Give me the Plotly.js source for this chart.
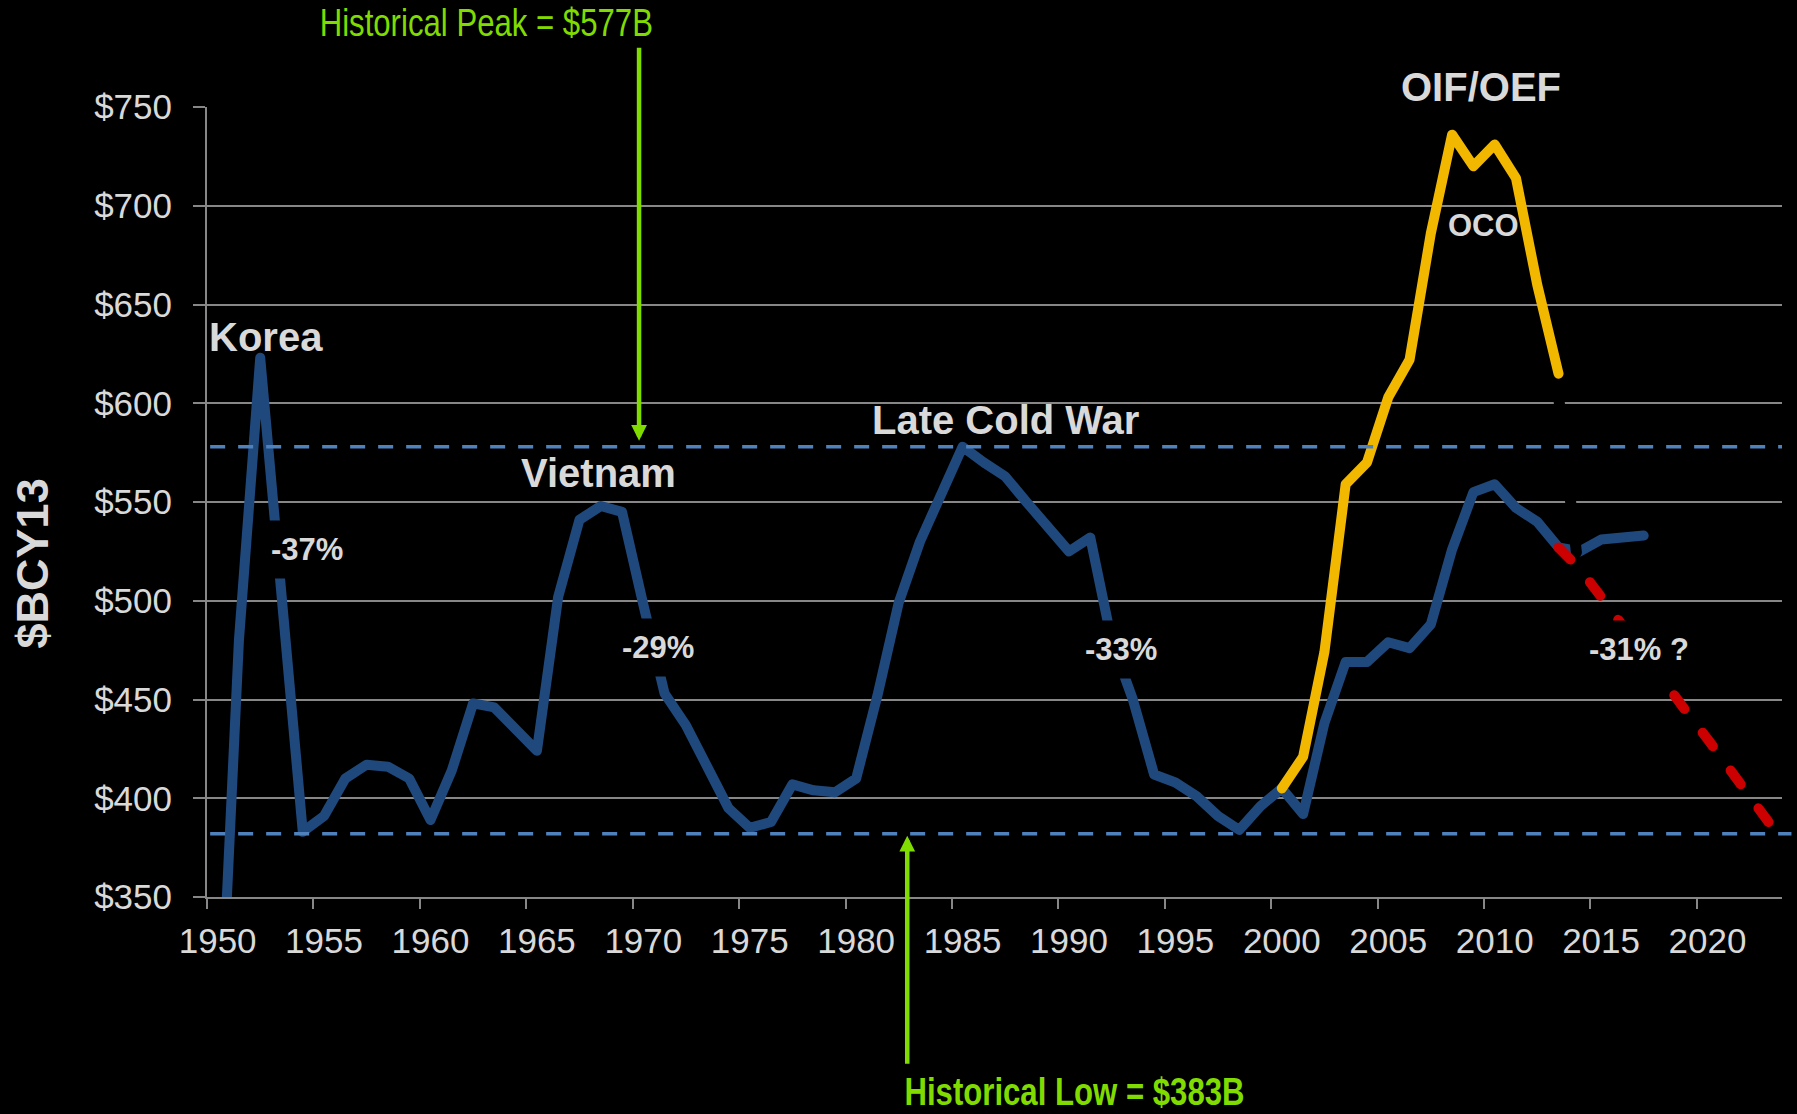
<!DOCTYPE html>
<html>
<head>
<meta charset="utf-8">
<script src="https://cdn.plot.ly/plotly-3.0.1.min.js"></script>
<style>
  html, body { margin: 0; padding: 0; background: #000; }
  #chart { width: 1797px; height: 1114px; }
  path.js-line { stroke-linecap: round !important; stroke-linejoin: round !important; }
  /* the two green call-outs use a condensed face in the original */
  g.annotation[data-index="10"] text.annotation-text,
  g.annotation[data-index="11"] text.annotation-text {
    transform-box: fill-box; transform-origin: center; transform: scaleX(0.82);
  }
</style>
</head>
<body>
<div id="chart"></div>
<script>
// ---- Data ($B constant CY13 dollars) ----
const baseYears = [1950,1951,1952,1953,1954,1955,1956,1957,1958,1959,
                   1960,1961,1962,1963,1964,1965,1966,1967,1968,1969,
                   1970,1971,1972,1973,1974,1975,1976,1977,1978,1979,
                   1980,1981,1982,1983,1984,1985,1986,1987,1988,1989,
                   1990,1991,1992,1993,1994,1995,1996,1997,1998,1999,
                   2000,2001,2002,2003,2004,2005,2006,2007,2008,2009,
                   2010,2011,2012,2013,2014,2015,2016,2017];
const baseBudget = [250,480,623,501,383,391,410,417,416,410,
                    389,414,448,446,435,424,502,541,548,545,
                    498,453,437,415,395,385,388,407,404,403,
                    410,452,499,530,555,578,570,563,550,537,
                    525,532,480,450,412,408,401,391,384,396,
                    405,392,438,469,469,479,476,488,526,555,
                    559,547,540,527,525,531,532,533];

const ocoYears  = [2000,2001,2002,2003,2004,2005,2006,2007,2008,2009,2010,2011,2012,2013];
const ocoBudget = [405,421,474,559,570,603,622,686,736,720,731,714,660,615];

const projYears  = [2013,2014,2015,2016,2017,2018,2019,2020,2021,2022,2023];
const projBudget = [527,516,502,487,473,458,444,430,415,400,386];

// short black connector drawn in the original between the OCO end and the base line
const connectorYears  = [2012.88, 2013.84];
const connectorBudget = [615, 524.5];

const historicalPeak = 578;
const historicalLow  = 382;
const peakLabel = 'Historical Peak = $577B';
const lowLabel  = 'Historical Low = $383B';
const peakArrowYear = 1969.8;
const lowArrowYear  = 1982.4;

const tickYears  = [1950,1955,1960,1965,1970,1975,1980,1985,1990,1995,2000,2005,2010,2015,2020];
const tickLabels = ['1950','1955','1960','1965','1970','1975','1980','1985','1990','1995','2000','2005','2010','2015','2020'];

const eraLabels = [
  {text: 'Korea',         x: 0.0375, y: 0.7092, size: 40},
  {text: 'Vietnam',       x: 0.2483, y: 0.5373, size: 40},
  {text: 'Late Cold War', x: 0.5073, y: 0.6038, size: 40},
  {text: 'OIF/OEF',       x: 0.8089, y: 1.0257, size: 40},
  {text: 'OCO',           x: 0.8102, y: 0.8494, size: 31}
];
const dropLabels = [
  {text: '-37%',   x: 0.0632, y: 0.4405},
  {text: '-29%',   x: 0.2863, y: 0.3158},
  {text: '-33%',   x: 0.5800, y: 0.3139},
  {text: '-31% ?', x: 0.9090, y: 0.3127}
];

// ---- Styling ----
const TXT = '#d9d9d9';
const GRID = '#878787';
const GREEN = '#80dc00';
const BLUE = '#1f497d';
const ARIAL = 'Liberation Sans, Arial, sans-serif';

const traces = [
  {x: baseYears, y: baseBudget, mode: 'lines', line: {color: BLUE, width: 10}, hoverinfo: 'skip'},
  {x: connectorYears, y: connectorBudget, mode: 'lines', line: {color: '#000000', width: 11}, hoverinfo: 'skip'},
  {x: ocoYears, y: ocoBudget, mode: 'lines', line: {color: '#f2b800', width: 10}, hoverinfo: 'skip'},
  {x: projYears, y: projBudget, mode: 'lines', line: {color: '#cc0000', width: 10, dash: '17px,30px'}, hoverinfo: 'skip'}
];

const annotations = [];
// indices 0-4
eraLabels.forEach(l => annotations.push({
  xref: 'paper', yref: 'paper', x: l.x, y: l.y, xanchor: 'center', yanchor: 'middle',
  text: l.text, showarrow: false,
  font: {family: ARIAL, size: l.size, color: TXT, weight: 'bold'}
}));
// indices 5-8
dropLabels.forEach(l => annotations.push({
  xref: 'paper', yref: 'paper', x: l.x, y: l.y, xanchor: 'center', yanchor: 'middle',
  text: l.text, showarrow: false, bgcolor: '#000000', borderpad: 11,
  font: {family: ARIAL, size: 31, color: TXT, weight: 'bold'}
}));
// index 9: y axis title, placed like the original (below the plot's middle)
annotations.push({
  xref: 'paper', yref: 'paper', x: -0.1102, y: 0.4228, xanchor: 'center', yanchor: 'middle',
  text: '$BCY13', textangle: -90, showarrow: false,
  font: {family: ARIAL, size: 45, color: TXT, weight: 'bold'}
});
// index 10, 11: green call-outs
annotations.push({
  xref: 'paper', yref: 'paper', x: 0.1775, y: 1.1058, xanchor: 'center', yanchor: 'middle',
  text: peakLabel, showarrow: false,
  font: {family: ARIAL, size: 38, color: GREEN}
});
annotations.push({
  xref: 'paper', yref: 'paper', x: 0.5511, y: -0.2762, xanchor: 'center', yanchor: 'bottom',
  text: lowLabel, showarrow: false,
  font: {family: ARIAL, size: 38, color: GREEN, weight: 'bold'}
});
// arrows
annotations.push({
  xref: 'x', yref: 'y', x: peakArrowYear, y: historicalPeak, text: ' ',
  font: {size: 1}, borderpad: 0,
  showarrow: true, axref: 'pixel', ayref: 'pixel', ax: 0, ay: -400,
  arrowhead: 2, arrowsize: 0.7, arrowwidth: 4.5, arrowcolor: GREEN, standoff: 6
});
annotations.push({
  xref: 'x', yref: 'y', x: lowArrowYear, y: historicalLow, text: ' ',
  font: {size: 1}, borderpad: 0,
  showarrow: true, axref: 'pixel', ayref: 'pixel', ax: 0, ay: 231,
  arrowhead: 2, arrowsize: 0.7, arrowwidth: 4.5, arrowcolor: GREEN, standoff: 2
});

const shapes = [
  {type: 'line', xref: 'paper', yref: 'y', x0: 0.002, x1: 1, y0: historicalPeak, y1: historicalPeak,
   line: {color: '#4f81bd', width: 3.5, dash: '15px,13px'}, layer: 'above'},
  {type: 'line', xref: 'paper', yref: 'y', x0: 0.002, x1: 1.006, y0: historicalLow, y1: historicalLow,
   line: {color: '#4f81bd', width: 3.5, dash: '15px,13px'}, layer: 'above'}
];

const layout = {
  width: 1797, height: 1114,
  paper_bgcolor: '#000000', plot_bgcolor: '#000000',
  margin: {l: 207, r: 15, t: 107, b: 217, pad: 0},
  showlegend: false,
  font: {family: ARIAL, color: TXT},
  xaxis: {
    range: [1949.5, 2023.5], tickmode: 'array', tickvals: tickYears, ticktext: tickLabels,
    ticks: '', showgrid: false, zeroline: false,
    showline: true, linecolor: GRID, linewidth: 2,
    tickfont: {family: ARIAL, size: 35, color: TXT},
    ticklabelstandoff: 12,
    minor: {tickmode: 'linear', tick0: 1949.5, dtick: 5, ticks: 'outside', ticklen: 10,
            tickwidth: 2, tickcolor: GRID, showgrid: false}
  },
  yaxis: {
    range: [350, 750], tickmode: 'linear', tick0: 350, dtick: 50, tickprefix: '$',
    showgrid: true, gridcolor: GRID, gridwidth: 2, zeroline: false,
    showline: true, linecolor: GRID, linewidth: 2,
    ticks: 'outside', ticklen: 12, tickwidth: 2, tickcolor: GRID,
    tickfont: {family: ARIAL, size: 35, color: TXT},
    ticklabelstandoff: 14
  },
  shapes: shapes,
  annotations: annotations
};

Plotly.newPlot('chart', traces, layout, {staticPlot: true, displayModeBar: false});
</script>
</body>
</html>
